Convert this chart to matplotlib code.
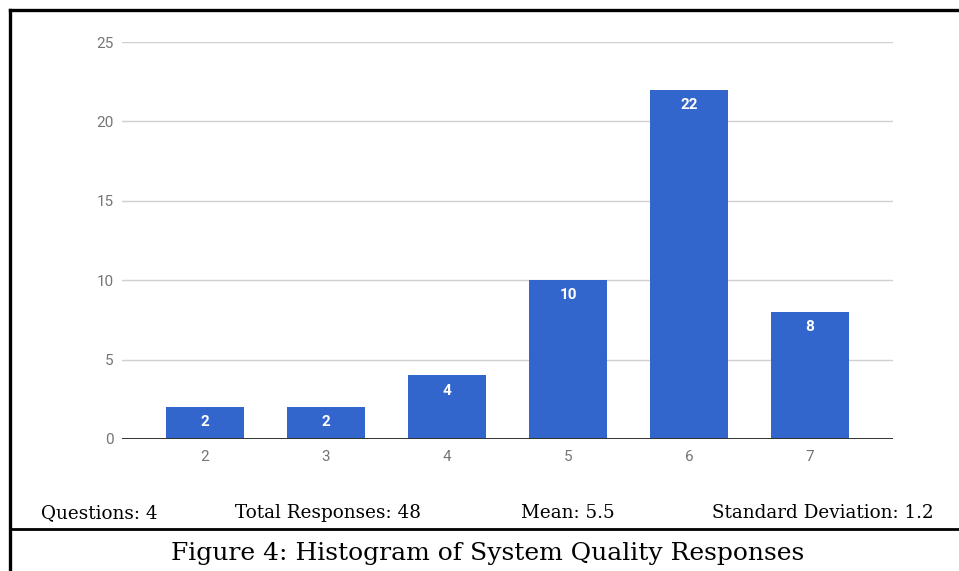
import matplotlib
matplotlib.use("Agg")
import matplotlib.pyplot as plt
from matplotlib.lines import Line2D

# Response histogram data
scores = ["2", "3", "4", "5", "6", "7"]
counts = [2, 2, 4, 10, 22, 8]
y_ticks = [0, 5, 10, 15, 20, 25]

stats = ["Questions: 4", "Total Responses: 48", "Mean: 5.5", "Standard Deviation: 1.2"]
caption = "Figure 4: Histogram of System Quality Responses"

bar_color = "#3366CC"
W, H = 959, 571

fig = plt.figure(figsize=(W / 100, H / 100), dpi=100)
ax = fig.add_axes([122 / W, (H - 439) / H, (893 - 122) / W, (439 - 42) / H])

x = list(range(len(scores)))
bars = ax.bar(x, counts, width=0.645, color=bar_color, zorder=3)
for rect, val in zip(bars, counts):
    ax.text(rect.get_x() + rect.get_width() / 2, val - 0.95, str(val),
            ha="center", va="center", color="white", fontsize=11,
            fontweight="bold", family="Roboto", zorder=4)

ax.set_xlim(-0.686, len(scores) - 1 + 0.686)
ax.set_ylim(0, 25)
ax.set_yticks(y_ticks)
ax.set_xticks(x)
ax.set_xticklabels(scores)
ax.yaxis.grid(True, color="#d0d0d0", linewidth=1, zorder=0)
ax.axhline(0, color="#333333", linewidth=1.4, zorder=5)
for s in ax.spines.values():
    s.set_visible(False)
ax.tick_params(length=0, labelsize=11, labelcolor="#757575")
ax.tick_params(axis="y", pad=6)
ax.tick_params(axis="x", pad=8)
for lab in ax.get_xticklabels() + ax.get_yticklabels():
    lab.set_family("Roboto")

# page frame and separator
frame_kw = dict(color="black", transform=fig.transFigure, clip_on=False)
fig.add_artist(Line2D([10 / W, 10 / W], [0, 1 - 10 / H], linewidth=2.4, **frame_kw))
fig.add_artist(Line2D([10 / W, 1], [1 - 10 / H, 1 - 10 / H], linewidth=2.4, **frame_kw))
fig.add_artist(Line2D([10 / W, 1], [1 - 529 / H, 1 - 529 / H], linewidth=2.0, **frame_kw))

serif = "DejaVu Serif"
stat_x = [41, 235, 521, 934]
stat_ha = ["left", "left", "left", "right"]
for txt, px, ha in zip(stats, stat_x, stat_ha):
    fig.text(px / W, 1 - 518 / H, txt, ha=ha, va="baseline",
             fontsize=13.2, family=serif)

fig.text(488 / W, 1 - 560 / H, caption, ha="center", va="baseline",
         fontsize=18, family=serif)

fig.savefig("out.png", dpi=100)
